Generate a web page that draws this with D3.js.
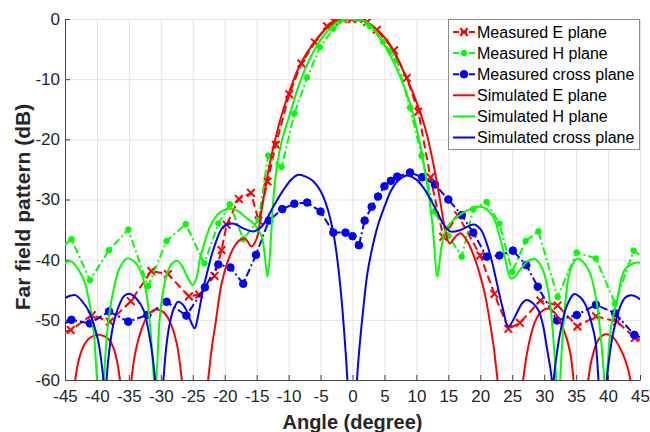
<!DOCTYPE html>
<html>
<head>
<meta charset="utf-8">
<script src="https://cdn.jsdelivr.net/npm/d3@7/dist/d3.min.js"></script>
<style>
body { margin: 0; background: #fff; }
text { font-family: "Liberation Sans", Arial, Helvetica, sans-serif; }
</style>
</head>
<body>
<div class="chart"></div>
<script>
var width = 650;
var height = 432;

// tick values
var xTicks = [-45,-40,-35,-30,-25,-20,-15,-10,-5,0,5,10,15,20,25,30,35,40,45];
var yTicks = [0,-10,-20,-30,-40,-50,-60];

// measured data [angle (deg), level (dB)]
var measE = [[-45,-52],[-44.1,-51.7],[-40.8,-49.2],[-38,-50.3],[-34.7,-46.9],[-31.5,-41.9],[-28.9,-42.4],
    [-25.6,-46.1],[-24,-45.8],[-21.6,-42.7],[-20.5,-38.4],[-19.7,-34.2],[-17.8,-29.9],[-15.9,-28.9],
    [-14.7,-33.5],[-13.3,-27],[-12,-20.9],[-9.9,-12.5],[-8,-7.4],[-5.9,-3.9],[-4,-1.2],[-3,-0.3],
    [-1.5,0],[-0.1,0],[0.9,0],[2.3,-0.5],[3.8,-1.8],[6.5,-5.2],[8.5,-9.8],[10.3,-15.4],[12.2,-26.3],
    [14.2,-36.2],[16.5,-32.6],[20,-39.3],[22.2,-45.7],[24.4,-51.5],[26.2,-50.5],[29.4,-46.8],
    [32.1,-47.6],[35.2,-51.1],[38.1,-49.4],[41.4,-50.3],[44.2,-53],[45,-53.3]];

var measH = [[-45,-37.5],[-44,-36.6],[-41.1,-43.4],[-38.1,-38.4],[-35.1,-35],[-32,-44.4],[-29.1,-36.9],
    [-26.1,-34.1],[-23.2,-40.6],[-21,-34],[-19.2,-30.8],[-17.1,-36.6],[-14.7,-33.4],[-13.2,-22.7],
    [-11.1,-24.6],[-9.1,-15.7],[-7.1,-9.7],[-5.1,-4.7],[-3,-1.6],[-1.2,0],[0.6,0],[2.7,-1.2],
    [4.8,-3.8],[5.9,-5.4],[6.9,-6.8],[9,-14.7],[10.8,-22.7],[12.8,-32],[15,-36],[17.1,-39.5],
    [18.9,-31.6],[21,-30.4],[23,-34],[25,-42],[27.1,-36.9],[29.1,-35.3],[32.1,-46.2],[35.1,-38.8],
    [38.1,-39.8],[41.1,-47.3],[44,-38.5],[45,-39.2]];

var measX = [[-45,-50.6],[-44,-50],[-41.1,-50.6],[-38.1,-48.6],[-35.1,-50.3],[-32.1,-49.2],[-29.1,-47],
    [-26,-49.3],[-23.1,-44.6],[-21,-40.8],[-19.1,-41.3],[-17.1,-44],[-15.1,-39.2],[-13.1,-33.5],
    [-11,-31.6],[-9.1,-30.7],[-7.1,-30.5],[-5,-32],[-3,-35.5],[-1.1,-35.5],[0,-36.1],[1,-37.6],
    [1.9,-33.5],[3,-31.2],[4,-29.5],[5,-27.8],[6,-26.9],[7,-26.2],[9,-25.5],[10.9,-26.3],[12.9,-27.5],
    [15,-30],[17.1,-32.6],[18.9,-35.5],[21,-39.5],[23,-39.3],[25.1,-38.5],[27.2,-40.9],[29,-44.5],
    [32,-50.1],[35.1,-49.2],[38.1,-47.5],[41.1,-48.9],[44.1,-52.5],[45,-52.9]];

// simulated data [angle (deg), level (dB)]
var simE = [[-44.5,-75],[-43.4,-60],[-42.8,-56.5],[-42,-54.2],[-41,-52.9],[-39.6,-52.5],[-38.2,-53.2],
    [-37.3,-55],[-36.4,-60],[-35.5,-75],[-34.6,-60],[-34,-55.5],[-33,-51.5],[-32,-49.2],[-30.8,-48.3],
    [-29.5,-48.8],[-28.5,-50.5],[-27.5,-54],[-26.7,-60],[-24.6,-78],[-22.6,-60],[-22,-54.5],[-21.5,-51],
    [-20.5,-44],[-19.5,-40.2],[-18.5,-37.8],[-17.6,-36.7],[-16.8,-36.5],[-15.8,-37.8],[-15,-36.5],
    [-14.2,-31.5],[-13.2,-25.4],[-12.5,-21.8],[-11.1,-16],[-9.8,-11.8],[-8.2,-7.6],[-6.1,-4],[-4,-1.5],
    [-2,-0.3],[0,0],[1.5,-0.2],[3.3,-1.3],[5.4,-3.5],[7.5,-7.6],[9.6,-12.6],[11.4,-18.2],[12.7,-24.3],
    [13.7,-30.1],[14.4,-34.5],[15.2,-37.3],[16,-36.3],[16.9,-35.6],[18,-37],[19.2,-40],[20.2,-43.5],
    [20.8,-46.1],[21.6,-51],[22.1,-54.5],[22.7,-60],[24.7,-78],[26.7,-60],[27.5,-54.5],[28.5,-50.5],
    [29.5,-48.7],[30.6,-48.1],[31.8,-49],[33,-51.5],[34,-55],[34.6,-60],[35.7,-75],[36.9,-60],
    [37.5,-56.3],[38.5,-53.3],[39.6,-52.4],[40.7,-52.8],[41.8,-54.5],[42.8,-57],[43.5,-60],[44.5,-75]];

var simH = [[-45,-40.5],[-44,-40.3],[-43,-41.5],[-42,-43.5],[-41.3,-46.5],[-40.6,-51],[-40,-60],
    [-39.4,-75],[-38.9,-60],[-38.3,-51],[-37.4,-45],[-36.5,-41.5],[-35.3,-39.8],[-34,-40.5],[-33,-42.3],
    [-32.2,-46],[-31.6,-52],[-31.2,-58],[-30.9,-62],[-30.6,-58],[-30.2,-50],[-29.6,-45],[-29,-42.2],
    [-28.2,-40.6],[-27.4,-40.2],[-26.6,-41.2],[-25.8,-43],[-25,-44.2],[-24.4,-43],[-23.9,-40],
    [-23.1,-37],[-22.3,-34.5],[-21.2,-32.6],[-20.2,-31.8],[-18.9,-31.5],[-17.8,-32],[-16.8,-32.9],
    [-15.3,-34.2],[-14.2,-36.2],[-13.3,-42.8],[-12.8,-37],[-12.4,-30.1],[-11.8,-24.3],[-11,-20],
    [-10,-16.5],[-8.2,-10.4],[-6.1,-5.4],[-4,-2.1],[-2,-0.3],[0,0],[2,-0.4],[3.5,-1.9],[4.8,-4],
    [6.9,-8.2],[9,-14],[10.6,-20.9],[11.7,-27.6],[12.5,-34],[13.3,-42.8],[13.9,-38],[14.6,-35],
    [16.3,-32.9],[18.4,-31.6],[20,-31.2],[21,-31.6],[22.1,-33.1],[23.6,-38.4],[24.8,-43.1],[25.5,-42.8],
    [26.2,-41.7],[27.5,-40.2],[28.5,-39.9],[29.5,-41],[30.3,-43.5],[31,-48],[31.5,-54],[31.9,-60],
    [32.2,-66],[32.5,-60],[33,-51],[33.8,-43],[34.5,-40.7],[35.2,-39.8],[36.2,-40.5],[37.2,-42.3],
    [38.2,-47],[38.8,-52.2],[39.4,-60],[39.6,-70],[39.8,-60],[40.5,-51],[41.4,-46.7],[42.6,-41.7],
    [44,-40.6],[45,-40.5]];

var simX = [[-45,-46.4],[-44.2,-46],[-43.4,-45.9],[-42.4,-46.8],[-41.1,-48.9],[-40.3,-51.5],[-39.8,-53.5],
    [-39.3,-57],[-39,-60],[-38.75,-68],[-38.5,-60],[-38,-54.5],[-37.4,-50.6],[-36.5,-47.5],[-35.7,-46],
    [-34.8,-45.7],[-33.8,-46.5],[-32.7,-48.4],[-31.9,-52],[-31.3,-56],[-30.9,-60],[-30.3,-70],
    [-29.6,-60],[-29.1,-54],[-28.6,-50.6],[-28,-48.2],[-27.3,-47],[-26.6,-47.4],[-26,-48.4],
    [-25.3,-50.3],[-24.7,-51.4],[-24.2,-49.5],[-23.4,-45],[-22.6,-41.5],[-21.8,-38.4],[-20.2,-34.5],
    [-18.7,-34],[-17.1,-34.8],[-15.5,-35.3],[-14.2,-34.5],[-13.3,-33],[-12.4,-31.2],[-10.8,-28.4],
    [-9.5,-26.6],[-8.5,-25.9],[-7.3,-26.2],[-6.1,-27],[-5,-28.6],[-4,-31.2],[-3,-35.5],[-2.2,-41.5],
    [-1.6,-48],[-1.1,-55],[-0.8,-60],[0,-75],[0.7,-60],[1.1,-54.5],[1.7,-48],[2.3,-42.5],[3,-38.5],
    [4,-34.2],[5,-31.2],[6,-28.6],[7,-27],[8.5,-26],[10,-26.7],[11.2,-28.2],[12.7,-30.9],[14.2,-34],
    [15.3,-35.3],[16.8,-35.1],[18.4,-34.3],[19.2,-34.2],[20.2,-35.2],[21,-37.3],[21.8,-40.2],[22.6,-43.9],
    [23.5,-48],[24.4,-51.1],[25.7,-48.9],[26.5,-47.3],[27.3,-46.7],[28.2,-47.2],[29.1,-48.4],[29.8,-50.8],
    [30.4,-54.5],[31.2,-60],[31.35,-66],[31.5,-60],[32,-55.5],[32.5,-52.2],[33.5,-47.8],[34.7,-45.7],
    [35.7,-46.3],[36.6,-47.8],[37.4,-50.5],[38,-53.3],[38.5,-60],[39.2,-72],[39.8,-60],[40.3,-55.5],
    [40.8,-52.2],[41.9,-47.8],[42.7,-46.3],[43.5,-45.9],[44.3,-46.1],[45,-46.6]];

var legendLabels = ["Measured E plane","Measured H plane","Measured cross plane",
                    "Simulated E plane","Simulated H plane","Simulated cross plane"];

var series = [
    {data: measE, color: "#ff0000", dash: "8,4",     marker: "x",   measured: true},
    {data: measH, color: "#00ff00", dash: "8,3,2,3", marker: "dot", r: 2.8, measured: true},
    {data: measX, color: "#0000ff", dash: "8,3,2,3", marker: "dot", r: 3.8, measured: true},
    {data: simE,  color: "#ff0000", dash: null, measured: false},
    {data: simH,  color: "#00ff00", dash: null, measured: false},
    {data: simX,  color: "#0000ff", dash: null, measured: false}
];

var svg = d3.select(".chart")
    .append("svg")
    .attr("width", width)
    .attr("height", height);

var x = d3.scaleLinear().domain([-45, 45]).range([65, 640]);
var y = d3.scaleLinear().domain([-60, 0]).range([380, 19]);

svg.append("defs").append("clipPath").attr("id", "plotclip")
    .append("rect")
    .attr("x", 65).attr("y", 19)
    .attr("width", 575).attr("height", 361);

// grid
var gx = svg.append("g")
    .attr("transform", "translate(0,380)")
    .call(d3.axisBottom(x).tickValues(xTicks).tickSize(-361).tickFormat(""));
var gy = svg.append("g")
    .attr("transform", "translate(65,0)")
    .call(d3.axisLeft(y).tickValues(yTicks).tickSize(-575).tickFormat(""));
[gx, gy].forEach(function(g){
    g.select(".domain").remove();
    g.selectAll("line").attr("stroke", "#e3e3e3").attr("stroke-width", 1);
});

// axes
var axX = svg.append("g")
    .attr("transform", "translate(0,380)")
    .call(d3.axisBottom(x).tickValues(xTicks).tickSizeInner(-5).tickSizeOuter(0).tickPadding(10));
var axY = svg.append("g")
    .attr("transform", "translate(65,0)")
    .call(d3.axisLeft(y).tickValues(yTicks).tickSizeInner(-5).tickSizeOuter(0).tickPadding(5));
[axX, axY].forEach(function(g){
    g.select(".domain").attr("stroke", "#444");
    g.selectAll(".tick line").attr("stroke", "#444");
    g.selectAll(".tick text")
        .attr("fill", "#262626")
        .style("font-size", "17px")
        .style("font-family", "'Liberation Sans', Arial, sans-serif")
        .text(function(d){ return d < 0 ? "-" + Math.abs(d) : d; });
});

// lines
var plot = svg.append("g").attr("clip-path", "url(#plotclip)");

var lineMeas = d3.line()
    .x(function(d){ return x(d[0]); })
    .y(function(d){ return y(d[1]); });
var lineSim = d3.line()
    .x(function(d){ return x(d[0]); })
    .y(function(d){ return y(d[1]); })
    .curve(d3.curveCatmullRom.alpha(0.5));

function drawMarker(g, s, px, py) {
    if (s.marker === "x") {
        g.append("path")
            .attr("d", "M" + (px-3.8) + "," + (py-3.8) + "L" + (px+3.8) + "," + (py+3.8) +
                       "M" + (px-3.8) + "," + (py+3.8) + "L" + (px+3.8) + "," + (py-3.8))
            .attr("stroke", s.color)
            .attr("stroke-width", 2)
            .attr("fill", "none");
    } else {
        g.append("circle")
            .attr("cx", px).attr("cy", py).attr("r", s.r)
            .attr("fill", s.color)
            .attr("stroke", s.color)
            .attr("stroke-width", 1);
    }
}

series.forEach(function(s){
    plot.append("path")
        .datum(s.data)
        .attr("d", s.measured ? lineMeas : lineSim)
        .attr("fill", "none")
        .attr("stroke", s.color)
        .attr("stroke-width", 2)
        .attr("stroke-dasharray", s.dash);
    if (s.measured) {
        var mg = plot.append("g");
        s.data.filter(function(d){ return Math.abs(d[0]) < 44.9; })
            .forEach(function(d){ drawMarker(mg, s, x(d[0]), y(d[1])); });
    }
});

// legend
var legend = svg.append("g");
legend.append("rect")
    .attr("x", 448.5).attr("y", 19.5)
    .attr("width", 191).attr("height", 130)
    .attr("fill", "#fff")
    .attr("stroke", "#8c8c8c")
    .attr("stroke-width", 1);

series.forEach(function(s, i){
    var cy = 32 + i * 21.1;
    legend.append("line")
        .attr("x1", 453).attr("x2", 475)
        .attr("y1", cy).attr("y2", cy)
        .attr("stroke", s.color)
        .attr("stroke-width", 2)
        .attr("stroke-dasharray", s.measured ? "6,2" : null);
    if (s.measured) drawMarker(legend, s, 464, cy);
    legend.append("text")
        .attr("x", 477)
        .attr("y", cy + 5.8)
        .attr("fill", "#000")
        .style("font-size", "16px")
        .text(legendLabels[i]);
});

// axis labels
svg.append("text")
    .attr("x", 352.5)
    .attr("y", 429)
    .attr("text-anchor", "middle")
    .attr("font-weight", "bold")
    .attr("fill", "#262626")
    .style("font-size", "20px")
    .text("Angle (degree)");

svg.append("text")
    .attr("transform", "translate(30,207) rotate(-90)")
    .attr("text-anchor", "middle")
    .attr("font-weight", "bold")
    .attr("fill", "#262626")
    .style("font-size", "21px")
    .text("Far field pattern (dB)");
</script>
</body>
</html>
